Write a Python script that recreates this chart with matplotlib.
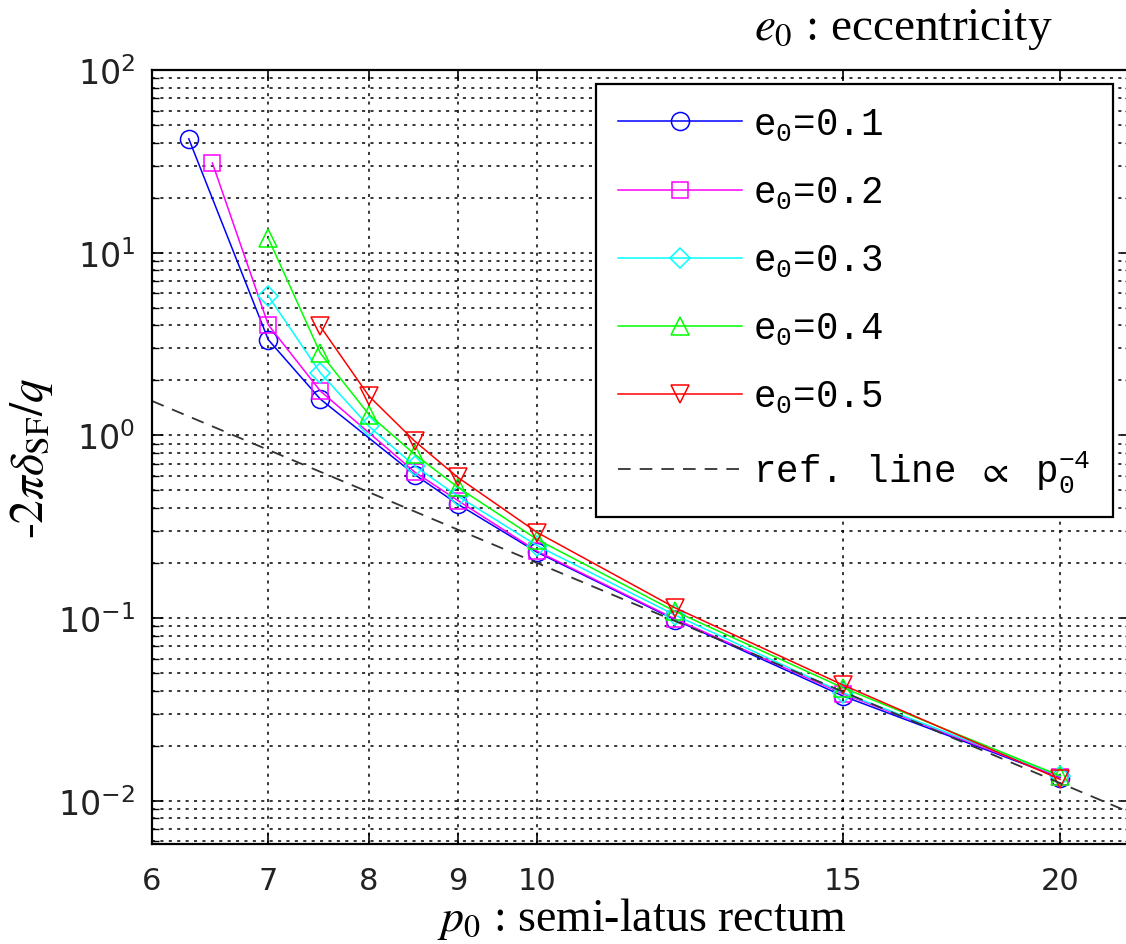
import matplotlib
matplotlib.use("Agg")
import matplotlib.pyplot as plt
import numpy as np

plt.rcParams['mathtext.fontset'] = 'custom'
plt.rcParams['mathtext.rm'] = 'Liberation Mono'
plt.rcParams['mathtext.it'] = 'Liberation Mono'
plt.rcParams['mathtext.fallback'] = 'stix'

# Data
p_e1 = [6.3, 7, 7.5, 8.5, 9, 10, 12, 15, 20]
v_e1 = [42, 3.34, 1.58, 0.61, 0.42, 0.229, 0.098, 0.0374, 0.0134]
p_e2 = [6.5, 7, 7.5, 8.5, 9, 10, 12, 15, 20]
v_e2 = [31, 4.03, 1.75, 0.63, 0.44, 0.232, 0.099, 0.0385, 0.0135]
p_e3 = [7, 7.5, 8, 8.5, 9, 10, 12, 15, 20]
v_e3 = [5.8, 2.2, 1.12, 0.68, 0.465, 0.249, 0.104, 0.039, 0.0137]
p_e4 = [7, 7.5, 8, 8.5, 9, 10, 12, 15, 20]
v_e4 = [12.0, 2.82, 1.30, 0.787, 0.52, 0.269, 0.109, 0.0415, 0.0137]
p_e5 = [7.5, 8, 8.5, 9, 10, 12, 15, 20]
v_e5 = [3.95, 1.64, 0.93, 0.589, 0.294, 0.114, 0.043, 0.0131]

labels = ['e$_\\mathrm{0}$=0.1', 'e$_\\mathrm{0}$=0.2', 'e$_\\mathrm{0}$=0.3',
          'e$_\\mathrm{0}$=0.4', 'e$_\\mathrm{0}$=0.5']
colors = ['#0000ff', '#ff00ff', '#00ffff', '#00ff00', '#ff0000']
markers = ['o', 's', 'D', '^', 'v']
msizes = [13, 11, 10, 13, 13]

ref_coef = 2000.0   # ref. line = ref_coef * p^-4
ref_p = [6, 22]

fig = plt.figure(figsize=(11.26, 9.45), dpi=100)
ax = fig.add_axes([152 / 1126, 100 / 945, (1132 - 152) / 1126, (845 - 71) / 945])

series = [(p_e1, v_e1), (p_e2, v_e2), (p_e3, v_e3), (p_e4, v_e4), (p_e5, v_e5)]
for (p, v), lab, c, m, ms in zip(series, labels, colors, markers, msizes):
    ax.plot(p, v, color=c, marker=m, markersize=ms, markerfacecolor='none',
            markeredgewidth=1.1, linewidth=1.1, label=lab)

pr = np.linspace(ref_p[0], ref_p[1], 100)
ax.plot(pr, ref_coef * pr ** -4.0, color='#333333', linestyle=(0, (7, 5)),
        linewidth=1.3, label='ref. line $\\propto$ p$_\\mathrm{0}^\\mathrm{-4}$')

ax.set_xscale('log')
ax.set_yscale('log')
ax.set_xlim(6, 22)
ax.set_ylim(0.0058, 100)

xt = [6, 7, 8, 9, 10, 15, 20]
ax.set_xticks(xt)
ax.set_xticklabels([str(t) for t in xt])
ax.xaxis.set_minor_locator(matplotlib.ticker.NullLocator())
ax.set_yticks([1e-2, 1e-1, 1e0, 1e1, 1e2])
ax.set_yticklabels(['$10^{-2}$', '$10^{-1}$', '$10^{0}$', '$10^{1}$', '$10^{2}$'])
ax.yaxis.set_minor_locator(matplotlib.ticker.LogLocator(base=10, subs=np.arange(2, 10)))
ax.yaxis.set_minor_formatter(matplotlib.ticker.NullFormatter())

for lab in ax.get_yticklabels():
    lab.set_math_fontfamily('dejavusans')
    lab.set_fontsize(24)
    lab.set_color('#222222')
for lab in ax.get_xticklabels():
    lab.set_fontfamily('DejaVu Sans')
    lab.set_fontsize(22)
    lab.set_color('#222222')

ax.tick_params(which='both', direction='in', top=True, right=True)
ax.tick_params(which='major', length=8, width=1.2)
ax.tick_params(axis='x', which='major', pad=16)
ax.tick_params(axis='y', which='major', pad=12)
ax.tick_params(which='minor', length=5, width=1.0)
ax.grid(True, which='major', axis='both', color='black', linestyle=(0, (2, 3.5)), linewidth=1.1)
ax.grid(True, which='minor', axis='y', color='black', linestyle=(0, (2, 3.5)), linewidth=1.1)
for s in ax.spines.values():
    s.set_linewidth(1.6)

ax.set_xlabel('$p_0$ : semi-latus rectum', fontsize=33, family='Liberation Serif',
              math_fontfamily='stix', labelpad=0)
ax.set_ylabel('-$\\mathit{2}\\pi\\delta_{\\mathrm{SF}}/q$', fontsize=34, family='Liberation Serif',
              math_fontfamily='stix', labelpad=2)
fig.text(1053 / 1126, 1 - 30 / 945, '$e_0$ : eccentricity', fontsize=34,
         family='Liberation Serif', math_fontfamily='stix', ha='right', va='center')

leg = ax.legend(loc='upper right', bbox_to_anchor=(1113 / 1126, 1 - 85 / 945),
                bbox_transform=fig.transFigure, borderaxespad=0,
                prop={'family': 'Liberation Mono', 'size': 27},
                fancybox=False, framealpha=1, edgecolor='black', handlelength=3.3,
                labelspacing=0.85, handletextpad=0.3, borderpad=0.6, numpoints=1)
leg.get_frame().set_linewidth(1.6)

fig.savefig('out.png', dpi=100)
